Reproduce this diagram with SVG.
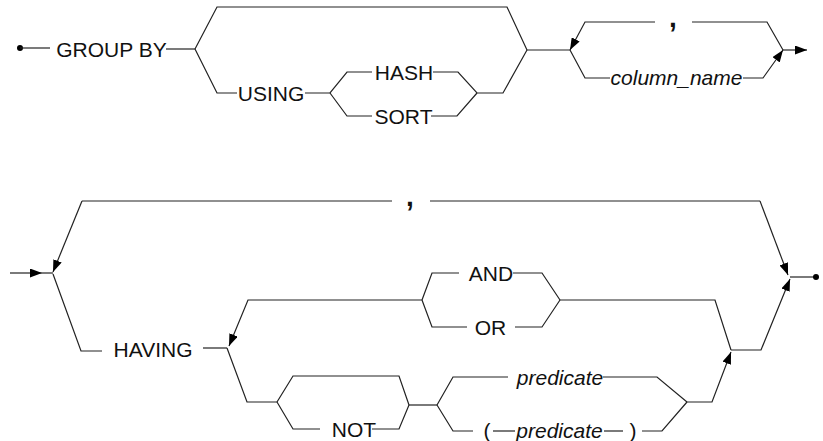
<svg xmlns="http://www.w3.org/2000/svg" width="823" height="441" viewBox="0 0 823 441">
<defs>
<marker id="arr" viewBox="0 0 12 9" refX="12" refY="4.5" markerWidth="12" markerHeight="9" markerUnits="userSpaceOnUse" orient="auto"><path d="M0,0 L12,4.5 L0,9 z" fill="#000"/></marker>
</defs>
<style>
.c{fill:none;stroke:#222;stroke-width:1.2;stroke-linejoin:miter}
.a{marker-end:url(#arr)}
text{font-family:"Liberation Sans",Arial,sans-serif;font-size:21px;fill:#111;text-anchor:middle}
.i{font-style:italic}
.cm{font-size:28px;font-weight:bold}
</style>
<rect width="823" height="441" fill="#fff"/>
<g id="connectors">
<circle cx="20" cy="48" r="3" fill="#000"/>
<path class="c" d="M20,48 L50,48"/>
<path class="c" d="M166,49 L195,49"/>
<path class="c" d="M195,49 L217,7 L507,7 L527,50"/>
<path class="c" d="M195,49 L217,93 L237,93"/>
<path class="c" d="M305,93 L330,93 L347,72 L372,72"/>
<path class="c" d="M433,72 L458,72 L477,93 L503,93 L527,50"/>
<path class="c" d="M330,93 L347,116 L372,116"/>
<path class="c" d="M431,116 L457,116 L477,93"/>
<path class="c" d="M527,50 L570,50"/>
<path class="c" d="M783,50 L767,22 L692,22"/>
<path class="c a" d="M655,22 L585,22 L570,50"/>
<path class="c" d="M570,50 L585,78 L610,78"/>
<path class="c a" d="M743,78 L763,78 L783,50"/>
<path class="c a" d="M783,50 L807,50"/>

<path class="c a" d="M10,273 L42,273"/>
<path class="c" d="M42,273 L53,273"/>
<path class="c" d="M392,201 L82,201"/>
<path class="c a" d="M82,201 L53,272"/>
<path class="c" d="M430,201 L760,201"/>
<path class="c a" d="M760,201 L788,275"/>
<path class="c" d="M53,274 L81,351 L102,351"/>
<path class="c" d="M203,348 L227,348"/>
<path class="c" d="M560,300 L715,300 L731,350"/>
<path class="c a" d="M422,300 L248,300 L229,346"/>
<path class="c" d="M227,348 L247,402 L277,402"/>
<path class="c" d="M277,402 L293,376 L399,376 L409,405"/>
<path class="c" d="M277,402 L293,429 L320,429"/>
<path class="c" d="M372,429 L399,429 L409,405"/>
<path class="c" d="M409,405 L437,405"/>
<path class="c" d="M437,405 L453,377 L508,377"/>
<path class="c" d="M603,377 L657,377 L687,402"/>
<path class="c" d="M437,405 L453,431 L473,431"/>
<path class="c" d="M493,431 L515,431"/>
<path class="c" d="M604,431 L623,431"/>
<path class="c" d="M642,431 L662,431 L687,402"/>
<path class="c a" d="M687,402 L712,402 L731,352"/>
<path class="c" d="M422,300 L432,273 L459,273"/>
<path class="c" d="M513,273 L542,273 L560,300"/>
<path class="c" d="M422,300 L432,327 L467,327"/>
<path class="c" d="M515,327 L542,327 L560,300"/>
<path class="c a" d="M731,350 L761,350 L790,279"/>
<path class="c" d="M790,277 L815,277"/>
<circle cx="816" cy="277" r="3" fill="#000"/>
</g>
<g id="group_by"><text x="111.5" y="57">GROUP BY</text></g>
<g id="using"><text x="271" y="101">USING</text></g>
<g id="hash"><text x="404" y="80">HASH</text></g>
<g id="sort"><text x="403.5" y="124">SORT</text></g>
<g id="comma1"><text class="cm" x="673" y="27">,</text></g>
<g id="column_name"><text class="i" x="676.5" y="85">column_name</text></g>
<g id="comma2"><text class="cm" x="410" y="206">,</text></g>
<g id="having"><text x="153" y="357">HAVING</text></g>
<g id="and"><text x="491" y="281">AND</text></g>
<g id="or"><text x="490.5" y="335">OR</text></g>
<g id="not"><text x="354" y="437">NOT</text></g>
<g id="predicate1"><text class="i" x="560" y="385">predicate</text></g>
<g id="predicate2">
<text x="487" y="438">(</text>
<text class="i" x="559.5" y="438">predicate</text>
<text x="633" y="438">)</text>
</g>
</svg>
